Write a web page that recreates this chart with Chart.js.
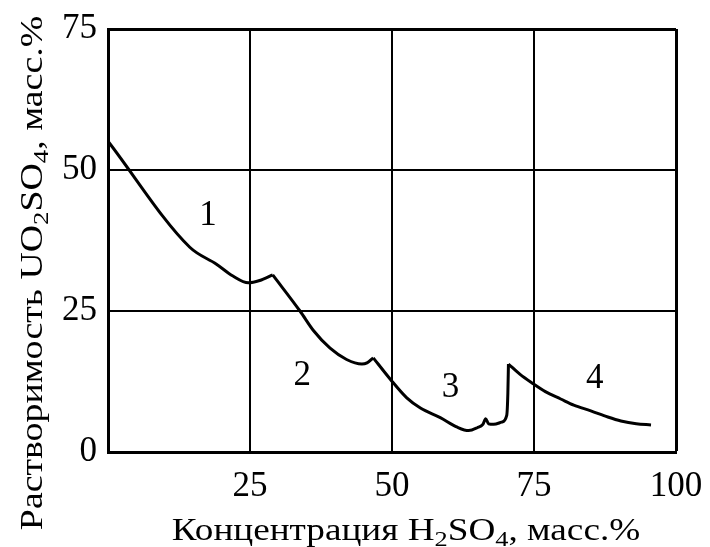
<!DOCTYPE html>
<html>
<head>
<meta charset="utf-8">
<script src="https://cdn.jsdelivr.net/npm/chart.js@4.4.1/dist/chart.umd.min.js"></script>
<style>
  html, body { margin: 0; padding: 0; background: #fff; }
  #wrap { width: 710px; height: 547px; }
</style>
</head>
<body>
<div id="wrap"><canvas id="chart"></canvas></div>
<script>
// H2SO4 concentration, mass %
const concentration = [0, 14.4, 19.1, 22.0, 24.7, 26.7, 29.0,
  33.8, 36.2, 39.1, 42.0, 44.7, 45.6, 46.7,
  49.7, 52.6, 55.0, 58.5, 61.5, 63.5, 65.0, 66.0, 66.5, 67.0, 67.9, 69.3, 70.2, 70.4, 70.5,
  72.5, 74.7, 77.0, 79.7, 82.0, 85.0, 88.0, 90.3, 93.0, 95.6];
// UO2SO4 solubility, mass %
const solubility = [55.1, 36.3, 33.3, 31.2, 30.0, 30.4, 31.4,
  25.0, 21.5, 18.4, 16.4, 15.6, 15.8, 16.7,
  12.9, 9.6, 7.8, 6.1, 4.4, 3.8, 4.3, 4.9, 5.9, 5.0, 4.9, 5.3, 6.5, 10.5, 15.6,
  13.8, 12.2, 10.7, 9.4, 8.3, 7.3, 6.2, 5.5, 5.0, 4.8];
// indices of the sharp points where one branch of the curve meets the next
const branchBreaks = [6, 13, 28];

const xTicks = [0, 25, 50, 75, 100];
const yTicks = [0, 25, 50, 75];

const curveLabels = ['1', '2', '3', '4'];
const curveLabelX = [17.6, 34.2, 60.3, 85.7];
const curveLabelY = [41.8, 13.5, 11.3, 12.9];

const FONT = '"Liberation Serif", "Times New Roman", serif';

const yTitle = [['Растворимость UO', false], ['2', true], ['SO', false], ['4', true], [', масс.%', false]];
const xTitle = [['Концентрация H', false], ['2', true], ['SO', false], ['4', true], [', масс.%', false]];

function drawParts(ctx, parts, size) {
  const big = size + 'px ' + FONT;
  const small = Math.round(size * 0.7) + 'px ' + FONT;
  let total = 0;
  parts.forEach(p => { ctx.font = p[1] ? small : big; total += ctx.measureText(p[0]).width; });
  let x = -total / 2;
  parts.forEach(p => {
    ctx.font = p[1] ? small : big;
    ctx.fillText(p[0], x, p[1] ? size * 0.2 : 0);
    x += ctx.measureText(p[0]).width;
  });
}

const decorations = {
  id: 'decorations',
  afterDraw(chart) {
    const ctx = chart.ctx;
    const xs = chart.scales.x, ys = chart.scales.y;
    ctx.save();
    ctx.fillStyle = '#000';
    ctx.textBaseline = 'middle';
    ctx.textAlign = 'center';
    ctx.font = '35px ' + FONT;
    curveLabels.forEach((t, i) => {
      ctx.fillText(t, xs.getPixelForValue(curveLabelX[i]), ys.getPixelForValue(curveLabelY[i]));
    });
    ctx.textAlign = 'left';
    ctx.textBaseline = 'alphabetic';
    ctx.save();
    ctx.translate(42, 273);
    ctx.rotate(-Math.PI / 2);
    ctx.scale(1.22, 1);
    drawParts(ctx, yTitle, 31);
    ctx.restore();
    ctx.save();
    ctx.translate(406, 540);
    ctx.scale(1.2, 1);
    drawParts(ctx, xTitle, 31);
    ctx.restore();
    ctx.restore();
  }
};

const starts = [0].concat(branchBreaks);
const ends = branchBreaks.concat([concentration.length - 1]);
const branches = starts.map((s, b) => ({
  data: concentration.slice(s, ends[b] + 1).map((x, i) => ({ x: x, y: solubility[s + i] })),
  borderColor: '#000',
  borderWidth: 3,
  pointRadius: 0,
  cubicInterpolationMode: 'monotone',
  fill: false
}));

new Chart(document.getElementById('chart'), {
  type: 'line',
  data: { datasets: branches },
  options: {
    responsive: true,
    maintainAspectRatio: false,
    animation: false,
    layout: { padding: { top: 29, right: 34, left: 0, bottom: 0 } },
    plugins: { legend: { display: false }, tooltip: { enabled: false } },
    scales: {
      x: {
        type: 'linear', min: 0, max: 100,
        afterBuildTicks: s => { s.ticks = xTicks.map(v => ({ value: v })); },
        afterFit: s => { s.height = 95; s.paddingLeft = 0; s.paddingRight = 0; },
        grid: {
          color: '#000',
          lineWidth: c => (c.tick && c.tick.value === 100 ? 3 : 2),
          drawTicks: false
        },
        border: { display: true, color: '#000', width: 3 },
        ticks: {
          color: '#000', padding: 14, maxRotation: 0,
          font: { family: FONT, size: 35 },
          callback: v => (v === 0 ? '' : v)
        }
      },
      y: {
        type: 'linear', min: 0, max: 75,
        afterBuildTicks: s => { s.ticks = yTicks.map(v => ({ value: v })); },
        afterFit: s => { s.width = 108; s.paddingTop = 0; s.paddingBottom = 0; },
        grid: {
          color: '#000',
          lineWidth: c => (c.tick && c.tick.value === 75 ? 3 : 2),
          drawTicks: false
        },
        border: { display: true, color: '#000', width: 3 },
        ticks: {
          color: '#000', padding: 11,
          font: { family: FONT, size: 35 }
        }
      }
    }
  },
  plugins: [decorations]
});
</script>
</body>
</html>
